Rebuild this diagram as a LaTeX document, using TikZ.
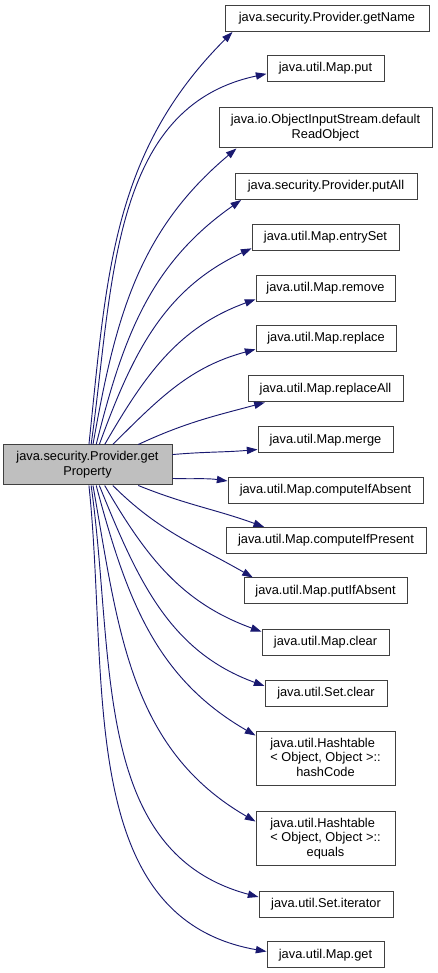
\documentclass[tikz,border=0pt]{standalone}
\usepackage{fontspec}
\setmainfont{Liberation Sans}
\usetikzlibrary{arrows.meta}

\definecolor{edgeblue}{RGB}{25,25,112}
\definecolor{mainfill}{RGB}{191,191,191}
\definecolor{boxline}{RGB}{64,64,64}

\begin{document}
\begin{tikzpicture}
[
	x=0.75pt,
	y=0.75pt,
	fn/.style={draw=boxline,line width=0.75pt,fill=white,inner sep=0pt,align=center,
		font=\fontsize{9.6pt}{11.2pt}\selectfont,minimum height=19.5pt},
	fntwo/.style={fn,minimum height=30pt},
	fnthree/.style={fn,minimum height=40.5pt},
	mainfn/.style={fntwo,fill=mainfill},
	call/.style={draw=edgeblue,line width=0.7pt,-{Triangle[length=8pt,width=5.5pt]},fill=none}
]

	\useasboundingbox (0,0) rectangle (437,973);

	% caller
	\node[mainfn,minimum width=126.75pt] (main) at (87.5,508) {java.security.Provider.get\\Property};

	% callees
	\node[fn,minimum width=153pt] (gn) at (327,954.5) {java.security.Provider.getName};
	\node[fn,minimum width=87.75pt] (mput) at (325.5,904.5) {java.util.Map.put};
	\node[fntwo,minimum width=159.75pt] (ois) at (325.5,845) {java.io.ObjectInputStream.default\\ReadObject};
	\node[fn,minimum width=136.5pt] (pall) at (326,786.5) {java.security.Provider.putAll};
	\node[fn,minimum width=110.25pt] (eset) at (325.5,735.5) {java.util.Map.entrySet};
	\node[fn,minimum width=104.25pt] (mrem) at (325.5,684.5) {java.util.Map.remove};
	\node[fn,minimum width=105pt] (mrep) at (326,634.5) {java.util.Map.replace};
	\node[fn,minimum width=116.25pt] (mrepall) at (325.5,584) {java.util.Map.replaceAll};
	\node[fn,minimum width=101.25pt] (mmerge) at (325.5,533) {java.util.Map.merge};
	\node[fn,minimum width=146.25pt] (cia) at (325.5,482.5) {java.util.Map.computeIfAbsent};
	\node[fn,minimum width=150pt] (cip) at (326,432.5) {java.util.Map.computeIfPresent};
	\node[fn,minimum width=122.25pt] (pia) at (325.5,382) {java.util.Map.putIfAbsent};
	\node[fn,minimum width=95.25pt] (mclear) at (325.5,330.5) {java.util.Map.clear};
	\node[fn,minimum width=91.5pt] (sclear) at (326,279.5) {java.util.Set.clear};
	\node[fnthree,minimum width=104.25pt] (hcode) at (325.5,214) {\begin{tabular}{@{}l@{}}java.util.Hashtable\\< Object, Object >::\\\multicolumn{1}{@{}c@{}}{hashCode}\end{tabular}};
	\node[fnthree,minimum width=104.25pt] (heq) at (325.5,134) {\begin{tabular}{@{}l@{}}java.util.Hashtable\\< Object, Object >::\\\multicolumn{1}{@{}c@{}}{equals}\end{tabular}};
	\node[fn,minimum width=100.5pt] (siter) at (326,68.5) {java.util.Set.iterator};
	\node[fn,minimum width=87.75pt] (mget) at (325.5,18) {java.util.Map.get};

	% calls going up
	\draw[call] (main.86) to[out=84,in=225] ([xshift=6pt]gn.south west);
	\draw[call] (main.80) to[out=82,in=192] ([yshift=-4pt]mput.west);
	\draw[call] (main.75) to[out=80,in=220] ([xshift=13.5pt]ois.south west);
	\draw[call] (main.67) to[out=76,in=215] ([xshift=5pt]pall.south west);
	\draw[call] (main.60) to[out=70,in=205] ([yshift=2pt]eset.south west);
	\draw[call] (main.50) to[out=60,in=200] ([yshift=2pt]mrem.south west);
	\draw[call] (main.39) to[out=45,in=195] ([yshift=2pt]mrep.south west);
	\draw[call] (main.22) to[out=25,in=195] ([xshift=13pt]mrepall.south west);
	\draw[call] (main.7) to[out=5,in=185] ([yshift=3pt]mmerge.south west);

	% calls going down
	\draw[call] (main.-9) to[out=-2,in=172] ([yshift=-3pt]cia.north west);
	\draw[call] (main.-22) to[out=-22,in=160] ([xshift=29pt]cip.north west);
	\draw[call] (main.-39) to[out=-45,in=150] ([xshift=7pt]pia.north west);
	\draw[call] (main.-50) to[out=-60,in=160] ([yshift=-2pt]mclear.north west);
	\draw[call] (main.-60) to[out=-68,in=160] ([yshift=-4.5pt]sclear.north west);
	\draw[call] (main.-67) to[out=-75,in=150] ([yshift=-3pt]hcode.north west);
	\draw[call] (main.-75) to[out=-80,in=150] ([yshift=-7.5pt]heq.north west);
	\draw[call] (main.-80) to[out=-82,in=165] ([yshift=-4.5pt]siter.north west);
	\draw[call] (main.-86) to[out=-84,in=170] ([yshift=-7.5pt]mget.north west);

\end{tikzpicture}
\end{document}
